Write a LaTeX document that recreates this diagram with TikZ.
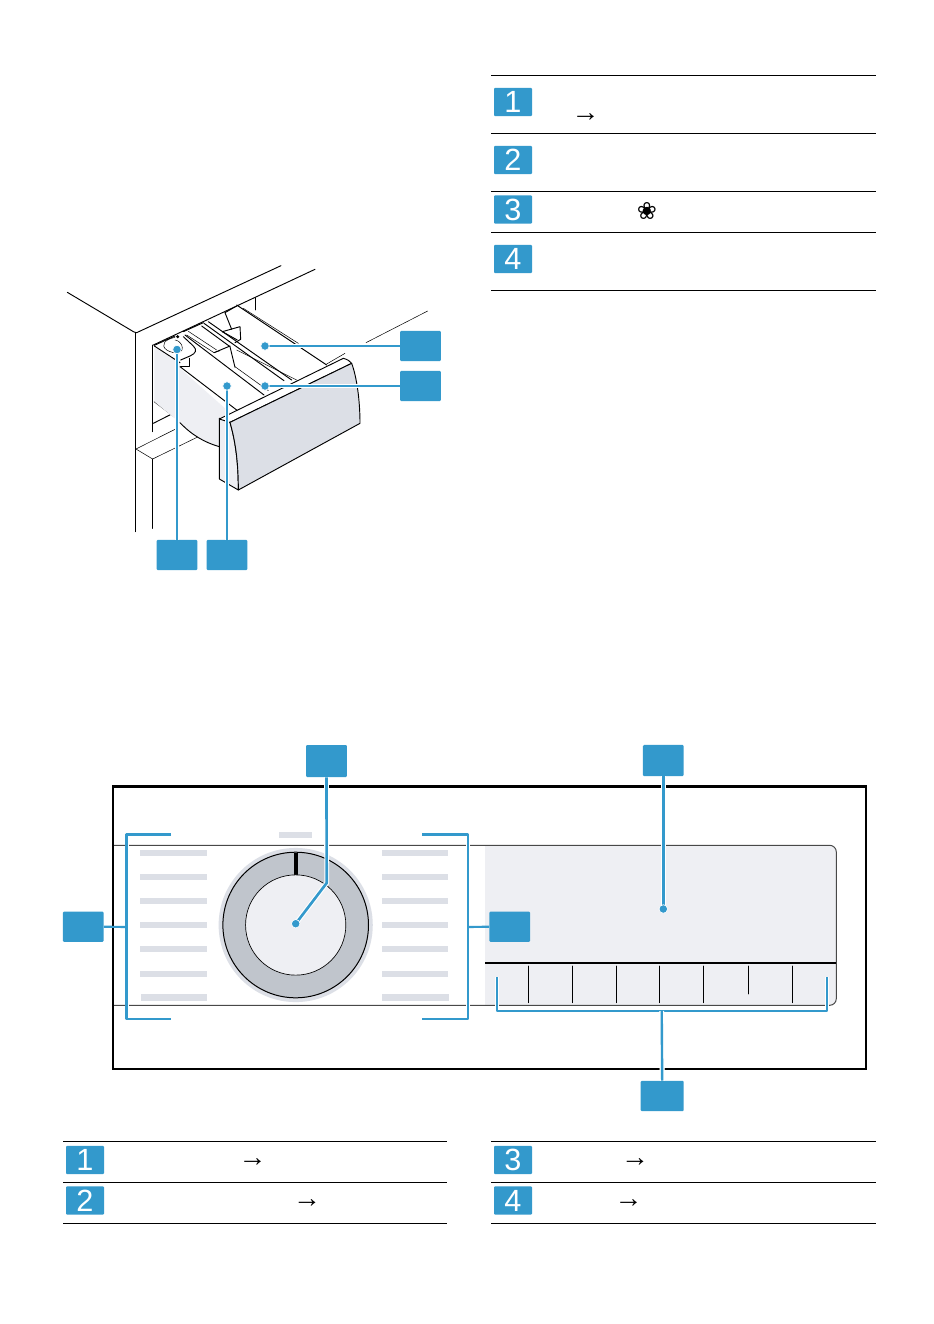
\documentclass[tikz,border=0pt]{standalone}
\usepackage{fontspec}
\setmainfont{Liberation Sans}
\newfontfamily\symfont{DejaVu Sans}
\definecolor{boxblue}{HTML}{3399CC}
\definecolor{barg}{HTML}{DCDFE6}
\definecolor{lightg}{HTML}{EEEFF3}
\definecolor{ringg}{HTML}{C0C5CC}
\definecolor{panelline}{HTML}{484848}
\tikzset{
  calloutbox/.style={fill=boxblue,rounded corners=0.8pt,inner sep=0pt,minimum width=30.5pt,minimum height=22.7pt},
  digitbox/.style={fill=boxblue,rounded corners=0.8pt,inner sep=0pt,minimum width=28.5pt,minimum height=21.3pt,text=white,font=\fontsize{23}{23}\selectfont},
  leader/.style={draw=boxblue,line width=2pt,preaction={draw=white,line width=3.6pt}},
  thinleader/.style={draw=boxblue,line width=1.6pt,line join=round,preaction={draw=white,line width=3pt}},
  leaderdot/.style={circle,fill=boxblue,draw=white,line width=.5pt,inner sep=0pt,minimum size=6.4pt},
  rule/.style={draw=black,line width=.9pt},
  bar/.style={fill=barg,draw=none},
  arrowtext/.style={inner sep=0pt,font=\fontsize{21}{21}\selectfont},
  ink/.style={draw=black,line width=.7pt,line cap=round,line join=round},
  inkthin/.style={draw=black,line width=.38pt,line cap=round,line join=round},
}
\begin{document}
\begin{tikzpicture}[x=.75pt,y=-.75pt]
\useasboundingbox[fill=white] (0,0) rectangle (933,1324);

% --- upper legend
\foreach \yy in {75.4,133.3,191.3,232.4,290.3}{\draw[rule] (491.3,\yy) -- (875.5,\yy);}
\node[digitbox] (la1) at (513,102) {1};
\node[digitbox] (la2) at (513,160) {2};
\node[digitbox] (la3) at (513,209.5) {3};
\node[digitbox] (la4) at (513,259) {4};
\node[arrowtext] (aa1) at (585.5,118) {→};
\node[inner sep=0pt,font=\symfont\fontsize{18}{18}\selectfont] (fl) at (647,211) {❀};

% --- dispenser drawing, in 1/3 pixel units
\begin{scope}[shift={(60,260)},x=.25pt,y=-.25pt]
  \draw[ink] (22,97) -- (222,216) -- (230,218) -- (663,17);
  \draw[ink] (280,255) -- (765,28);
  \draw[ink] (226,218) -- (226,815);
  \draw[ink] (278,597) -- (278,805);
  \draw[ink] (278,255) -- (278,515);
  \draw[ink] (586,113) -- (586,150);
  \draw[inkthin] (1103,153) -- (918,248);
  \draw[inkthin] (855,280) -- (800,312);
  \draw[inkthin] (228,567) -- (278,597) -- (415,530);
  \draw[inkthin] (228,567) -- (345,508);
  \draw[ink] (280,490) -- (335,462);
  \draw[ink] (283,425) -- (345,472);
  % drawer side
  \fill[lightg] (283,262) -- (283,425) -- (360,488) .. controls (395,525) and (435,548) .. (478,560) -- (478,475) -- (512,460) -- (360,325) -- (360,308) -- cycle;
  \draw[ink] (360,488) .. controls (395,525) and (435,548) .. (478,560);
  \draw[ink] (283,258) -- (360,308);
  \draw[ink] (360,320) -- (530,450);
  % tray
  \draw[ink] (283,256) -- (345,228);
  \draw[ink] (370,215) -- (430,188);
  \draw[ink] (495,158) -- (530,138);
  \draw[ink] (375,225) -- (612,405);
  \draw[inkthin] (385,214) -- (470,270);
  \draw[inkthin] (525,320) -- (625,392);
  \draw[ink] (432,190) -- (672,362);
  \draw[ink] (445,185) -- (695,360);
  \draw[ink] (530,135) -- (800,315);
  \draw[inkthin] (550,145) -- (715,250);
  \draw[inkthin] (530,270) -- (710,360);
  \draw[ink] (495,158) -- (515,208);
  \draw[ink] (487,215) -- (540,200) -- (542,238) -- (525,248);
  \draw[ink] (487,215) -- (532,240);
  \draw[inkthin] (380,225) -- (462,278) -- (480,272);
  \draw[ink] (425,198) -- (510,260) -- (525,322);
  \draw[ink] (462,278) -- (510,258);
  % siphon
  \draw[inkthin] (345,232) .. controls (315,238) and (300,255) .. (320,270) .. controls (345,285) and (375,280) .. (365,255) .. controls (360,245) and (350,240) .. (345,240);
  \draw[ink] (370,230) -- (400,258) .. controls (412,270) and (408,280) .. (390,288) -- (362,300);
  \fill (353,230) circle (5);
  \draw[ink] (388,295) -- (388,318) -- (362,318);
  % front
  \path[fill=lightg,ink] (478,475) -- (510,487) .. controls (525,540) and (535,600) .. (535,690) -- (478,657) -- cycle;
  \path[fill=white,ink] (478,477) -- (850,295) .. controls (862,298) and (870,303) .. (875,310) -- (510,487) -- cycle;
  \path[fill=barg,ink] (510,487) -- (875,310) .. controls (890,350) and (900,420) .. (900,490) -- (535,690) .. controls (535,600) and (525,540) .. (510,487) -- cycle;
\end{scope}

\node[calloutbox] (d3) at (420.5,346) {};
\node[calloutbox] (d4) at (420.5,386) {};
\node[calloutbox] (d1) at (177,555) {};
\node[calloutbox] (d2) at (227,555) {};
\coordinate (dp3) at (265,346);
\coordinate (dp4) at (265,386);
\coordinate (dp1) at (177,349.5);
\coordinate (dp2) at (227,386);
\draw[leader] (d3.west) -- (dp3);
\draw[leader] (d4.west) -- (dp4);
\draw[leader] (d1.north) -- (dp1);
\draw[leader] (d2.north) -- (dp2);
\node[leaderdot] (dd3) at (dp3) {};
\node[leaderdot] (dd4) at (dp4) {};
\node[leaderdot] (dd1) at (dp1) {};
\node[leaderdot] (dd2) at (dp2) {};

% --- control panel
\fill[lightg] (485,845.3) [rounded corners=5pt] -- (836.3,845.3) -- (836.3,1005.3) [sharp corners] -- (485,1005.3) -- cycle;
\draw[draw=panelline,line width=.75pt] (112,845.3) [rounded corners=5pt] -- (836.3,845.3) -- (836.3,1005.3) [sharp corners] -- (112,1005.3);
\draw[draw=black,line width=2.3pt] (112,786.7) -- (867,786.7);
\draw[draw=black,line width=1.5pt] (113,786) -- (113,1068.7) -- (866,1068.7) -- (866,786);
\draw[draw=black,line width=1.2pt] (485,962.7) -- (836.3,962.7);
\foreach \xx in {528.3,572.3,616.3,659.3,703.3,792.3}{\draw[inkthin,line width=.6pt] (\xx,966) -- (\xx,1002.7);}
\draw[inkthin,line width=.6pt] (748.3,966) -- (748.3,994);

\fill[barg] (279,832) rectangle (312,838);
\foreach \yy in {853,877,901,925,949,973.5}{
  \fill[barg] (140,\yy-3) rectangle (207,\yy+3);
  \fill[barg] (382,\yy-3) rectangle (448,\yy+3);
}
\fill[barg] (141,993.5) rectangle (207,1000.5);
\fill[barg] (382,993.5) rectangle (449,1000.5);

\fill[barg] (295.7,925) circle[radius=57.8pt];
\path[fill=ringg,draw=black,line width=.75pt] (295.7,925) circle[radius=54.6pt];
\fill[black] (293.7,853) rectangle (297.7,876);
\path[fill=lightg,draw=black,line width=.5pt] (295.7,925) circle[radius=37.6pt];

\node[calloutbox,minimum height=24pt] (p1) at (326.5,761) {};
\node[calloutbox,minimum height=23.3pt] (p2) at (663.3,760.5) {};
\node[calloutbox] (p3) at (83.3,926.7) {};
\node[calloutbox] (p4) at (509.8,926.7) {};
\node[calloutbox,minimum width=32.3pt] (p5) at (662.2,1096) {};

\coordinate (k1) at (326.7,883);
\coordinate (t1) at (295.7,923.7);
\coordinate (t2) at (663.3,909);
\coordinate (lt) at (171,834.5);
\coordinate (lb) at (171,1019);
\coordinate (lm) at (126.5,927);
\coordinate (rt) at (422,834.5);
\coordinate (rb) at (422,1019);
\coordinate (rm) at (468,927);
\coordinate (ba) at (497,977);
\coordinate (bb) at (827,977);
\coordinate (bm) at (661.7,1011);

\draw[leader,line join=round] (p1.south) -- (k1) -- (t1);
\draw[leader] (p2.south) -- (t2);
\draw[thinleader] (lt) -- (126.5,834.5) -- (126.5,1019) -- (lb);
\draw[thinleader] (rt) -- (468,834.5) -- (468,1019) -- (rb);
\draw[draw=boxblue,line width=1.6pt] (p3.east) -- (lm);
\draw[draw=boxblue,line width=1.6pt] (rm) -- (p4.west);
\draw[thinleader] (ba) -- (497,1011) -- (827,1011) -- (bb);
\draw[leader,line width=1.8pt,preaction={draw=white,line width=3.2pt}] (bm) -- (p5.north);
\node[leaderdot] (pd1) at (t1) {};
\node[leaderdot] (pd2) at (t2) {};

% --- lower legends
\foreach \yy in {1141.3,1182.3,1223.3}{
  \draw[rule] (63,\yy) -- (447,\yy);
  \draw[rule] (491.3,\yy) -- (875.5,\yy);
}
\node[digitbox] (lb1) at (85,1160) {1};
\node[digitbox] (lb2) at (85,1200.5) {2};
\node[digitbox] (lb3) at (513,1160) {3};
\node[digitbox] (lb4) at (513,1200.5) {4};
\node[arrowtext] (ab1) at (252.5,1163) {→};
\node[arrowtext] (ab2) at (307,1204) {→};
\node[arrowtext] (ab3) at (635,1163) {→};
\node[arrowtext] (ab4) at (628.5,1204) {→};
\end{tikzpicture}
\end{document}
